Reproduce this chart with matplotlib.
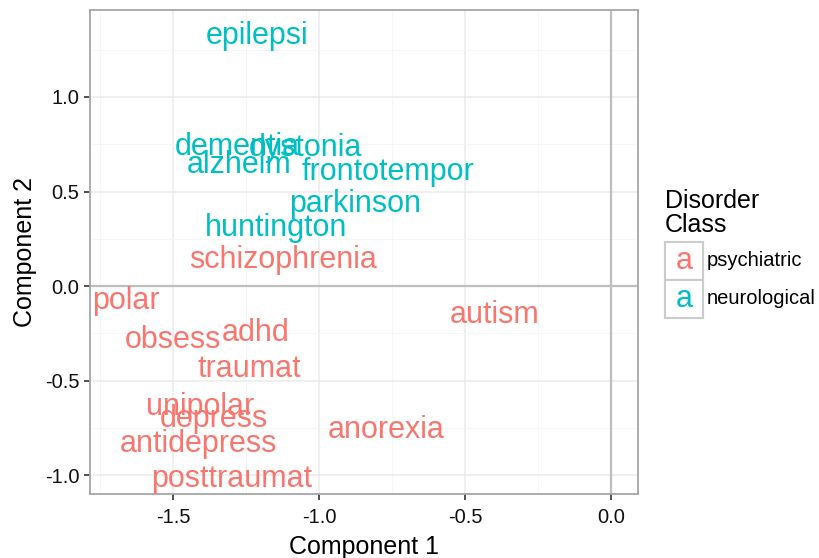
import matplotlib.pyplot as plt
from matplotlib.ticker import MultipleLocator
from matplotlib.patches import Rectangle
from matplotlib.transforms import ScaledTranslation

plt.rcParams['font.family'] = ['Liberation Sans', 'DejaVu Sans']
plt.rcParams['axes.unicode_minus'] = False

labels = ['epilepsi', 'dementia', 'dystonia', 'alzheim', 'frontotempor', 'parkinson',
          'huntington', 'schizophrenia', 'polar', 'autism', 'obsess', 'adhd', 'traumat',
          'unipolar', 'depress', 'anorexia', 'antidepress', 'posttraumat']
comp1 = [-1.211, -1.280, -1.048, -1.274, -0.764, -0.877, -1.147, -1.123, -1.661, -0.400,
         -1.500, -1.216, -1.238, -1.408, -1.361, -0.771, -1.412, -1.298]
comp2 = [1.339, 0.750, 0.746, 0.656, 0.619, 0.450, 0.323, 0.153, -0.065, -0.136,
         -0.268, -0.234, -0.423, -0.624, -0.686, -0.747, -0.818, -1.003]
disorder_class = ['neurological'] * 7 + ['psychiatric'] * 11

classes = ['psychiatric', 'neurological']
colors = {'psychiatric': '#F8766D', 'neurological': '#00BFC4'}

W, H = 819, 558
fig = plt.figure(figsize=(W / 100, H / 100), dpi=100)
ax = fig.add_axes([90 / W, 1 - 494 / H, 548 / W, 484 / H])

ax.set_xlim(-1.784, 0.092)
ax.set_ylim(-1.10, 1.46)

ax.xaxis.set_major_locator(MultipleLocator(0.5))
ax.yaxis.set_major_locator(MultipleLocator(0.5))
ax.xaxis.set_minor_locator(MultipleLocator(0.25))
ax.yaxis.set_minor_locator(MultipleLocator(0.25))
ax.grid(which='major', color='#EBEBEB', lw=1.1)
ax.grid(which='minor', color='#F5F5F5', lw=0.6)
ax.set_axisbelow(True)
ax.tick_params(which='major', length=4, width=1.2, color='#333333',
               labelsize=14.5, labelcolor='#111111')
ax.tick_params(axis='x', pad=6)
ax.tick_params(which='minor', length=0)
ax.xaxis.set_major_formatter(plt.FuncFormatter(lambda v, p: '%.1f' % v))
ax.yaxis.set_major_formatter(plt.FuncFormatter(lambda v, p: '%.1f' % v))
for s in ax.spines.values():
    s.set_color('#A6A6A6')
    s.set_linewidth(1.3)

ax.axhline(0, color='#BEBEBE', lw=1.6, zorder=1)
ax.axvline(0, color='#BEBEBE', lw=1.6, zorder=1)

# small shift so the text box centre sits where ggplot puts it
shift = ax.transData + ScaledTranslation(0, -3 / 100, fig.dpi_scale_trans)
for name, x, y, c in zip(labels, comp1, comp2, disorder_class):
    ax.text(x, y, name, color=colors[c], fontsize=22, ha='center', va='center',
            zorder=3, transform=shift)

ax.set_xlabel('Component 1', fontsize=18, labelpad=6)
ax.set_ylabel('Component 2', fontsize=18, labelpad=6)

# legend
fig.text(665 / W, 1 - 213 / H, 'Disorder\nClass', fontsize=18, ha='left', va='center',
         linespacing=1.0)
for i, c in enumerate(classes):
    top = 242 + i * 38
    fig.add_artist(Rectangle((665 / W, 1 - (top + 38) / H), 38 / W, 38 / H,
                             transform=fig.transFigure, facecolor='white',
                             edgecolor='#CCCCCC', lw=1.5))
    fig.text(684 / W, 1 - (top + 19) / H, 'a', color=colors[c], fontsize=22,
             ha='center', va='center')
    fig.text(707 / W, 1 - (top + 19) / H, c, fontsize=14.5, ha='left', va='center')

fig.savefig('out.png', dpi=100)
